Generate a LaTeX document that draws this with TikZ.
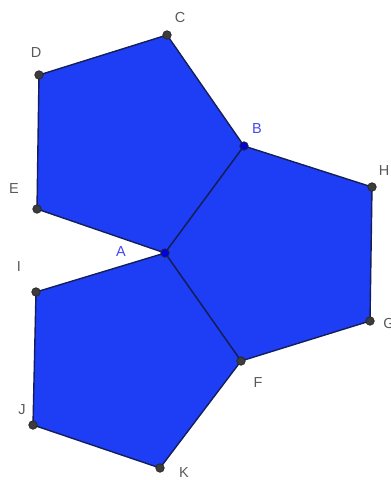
\documentclass[tikz,border=0pt]{standalone}
\usepackage{fontspec}
\setmainfont{Liberation Sans}
\definecolor{pfill}{RGB}{30,62,245}
\definecolor{pedge}{RGB}{20,30,90}
\definecolor{lbl}{RGB}{90,90,90}
\definecolor{lblb}{RGB}{70,70,240}
\definecolor{ptc}{RGB}{60,60,60}
\begin{document}
\begin{tikzpicture}[x=1pt,y=-1pt,
  poly/.style={fill=pfill,draw=pedge,line width=1.4pt,line join=round},
  pt/.style={circle,fill=ptc,draw=black!85,line width=0.7pt,inner sep=0pt,minimum size=8.5pt},
  ptb/.style={circle,fill=blue!85!black,draw=black!85,line width=0.7pt,inner sep=0pt,minimum size=8.5pt},
  lab/.style={text=lbl,font=\fontsize{14.5}{14.5}\selectfont,inner sep=0pt},
  labb/.style={text=lblb,font=\fontsize{14.5}{14.5}\selectfont,inner sep=0pt}]
\clip (0,0) rectangle (391,480);
\fill[white] (0,0) rectangle (391,480);
\coordinate (A) at (165,253);
\coordinate (B) at (244,146);
\coordinate (C) at (167,35);
\coordinate (D) at (39,75);
\coordinate (E) at (37,209);
\coordinate (H) at (372,187);
\coordinate (G) at (370,321);
\coordinate (F) at (241,361);
\coordinate (I) at (36,292);
\coordinate (J) at (33,425);
\coordinate (K) at (160,468);
\draw[poly] (A) -- (B) -- (C) -- (D) -- (E) -- cycle;
\draw[poly] (A) -- (B) -- (H) -- (G) -- (F) -- cycle;
\draw[poly] (A) -- (F) -- (K) -- (J) -- (I) -- cycle;
\foreach \p in {C,D,E,H,G,F,I,J,K} \node[pt] (p\p) at (\p) {};
\node[ptb] (pA) at (A) {};
\node[ptb] (pB) at (B) {};
\node[lab] (lC) at (180,18) {C};
\node[lab] (lD) at (36,53) {D};
\node[lab] (lE) at (14,189) {E};
\node[labb] (lA) at (121,252) {A};
\node[labb] (lB) at (257,129) {B};
\node[lab] (lH) at (384,171) {H};
\node[lab] (lG) at (389,324) {G};
\node[lab] (lF) at (258,383) {F};
\node[lab] (lI) at (19,267) {I};
\node[lab] (lJ) at (22,410) {J};
\node[lab] (lK) at (184,473) {K};
\end{tikzpicture}
\end{document}
